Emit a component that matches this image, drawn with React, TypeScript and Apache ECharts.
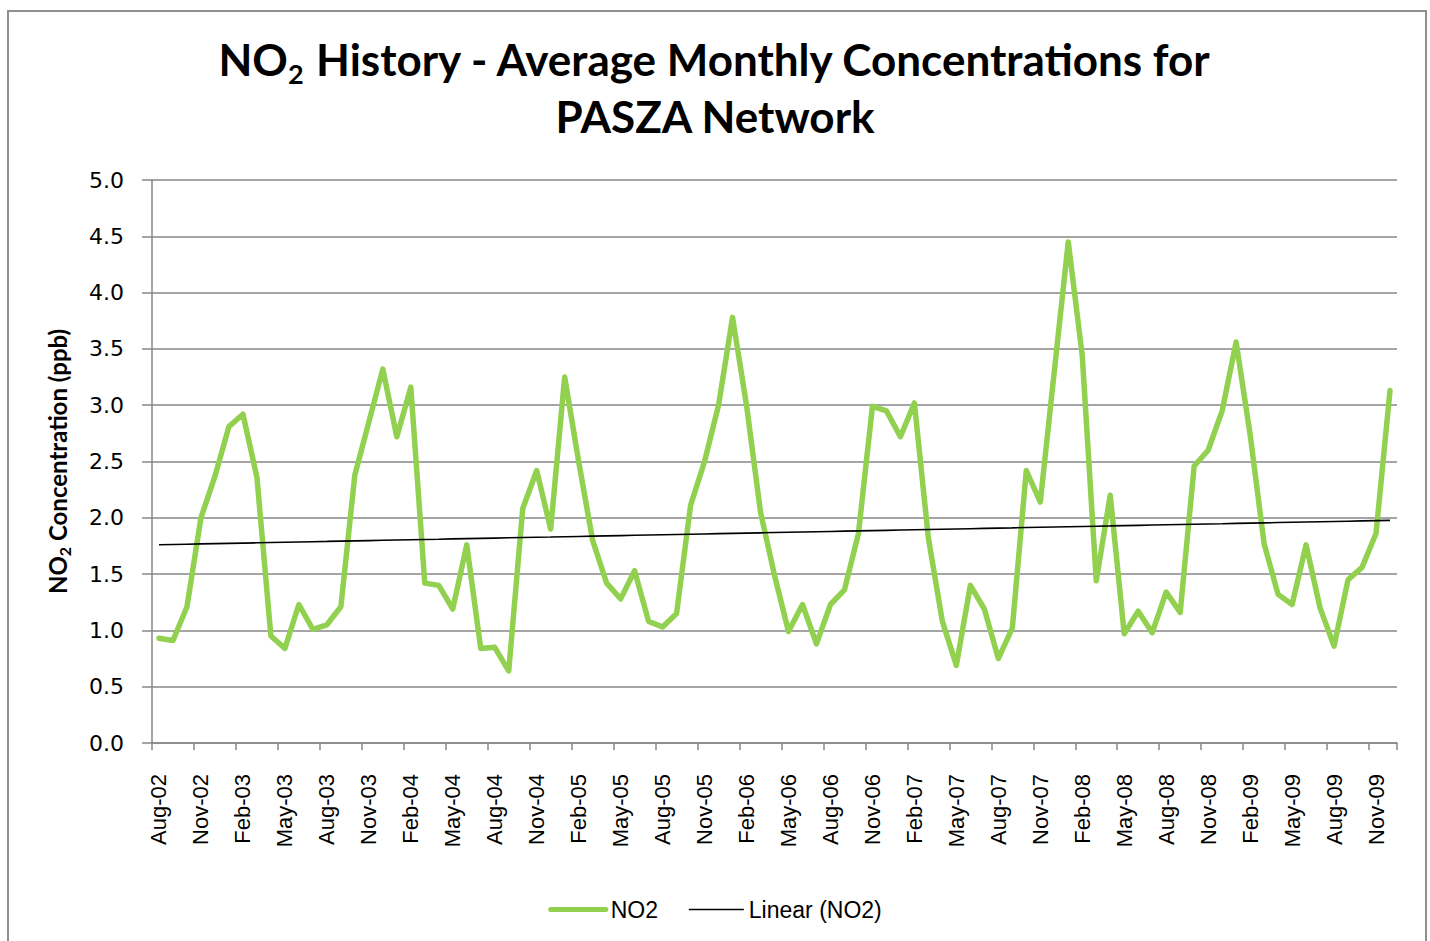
import React, { useEffect, useRef } from "react";
import * as echarts from "echarts";

const months: string[] = [
  "Aug-02", "Sep-02", "Oct-02", "Nov-02", "Dec-02",
  "Jan-03", "Feb-03", "Mar-03", "Apr-03", "May-03", "Jun-03", "Jul-03", "Aug-03", "Sep-03", "Oct-03", "Nov-03", "Dec-03",
  "Jan-04", "Feb-04", "Mar-04", "Apr-04", "May-04", "Jun-04", "Jul-04", "Aug-04", "Sep-04", "Oct-04", "Nov-04", "Dec-04",
  "Jan-05", "Feb-05", "Mar-05", "Apr-05", "May-05", "Jun-05", "Jul-05", "Aug-05", "Sep-05", "Oct-05", "Nov-05", "Dec-05",
  "Jan-06", "Feb-06", "Mar-06", "Apr-06", "May-06", "Jun-06", "Jul-06", "Aug-06", "Sep-06", "Oct-06", "Nov-06", "Dec-06",
  "Jan-07", "Feb-07", "Mar-07", "Apr-07", "May-07", "Jun-07", "Jul-07", "Aug-07", "Sep-07", "Oct-07", "Nov-07", "Dec-07",
  "Jan-08", "Feb-08", "Mar-08", "Apr-08", "May-08", "Jun-08", "Jul-08", "Aug-08", "Sep-08", "Oct-08", "Nov-08", "Dec-08",
  "Jan-09", "Feb-09", "Mar-09", "Apr-09", "May-09", "Jun-09", "Jul-09", "Aug-09", "Sep-09", "Oct-09", "Nov-09", "Dec-09",
];

const no2: number[] = [
  0.93, 0.91, 1.21, 2.0, 2.37,
  2.81, 2.92, 2.36, 0.95, 0.84, 1.23, 1.01, 1.05, 1.21, 2.38, 2.85, 3.32,
  2.72, 3.16, 1.42, 1.4, 1.19, 1.76, 0.84, 0.85, 0.64, 2.08, 2.42, 1.9,
  3.25, 2.5, 1.8, 1.42, 1.28, 1.53, 1.08, 1.03, 1.15, 2.11, 2.5, 3.0,
  3.78, 3.0, 2.05, 1.49, 0.99, 1.23, 0.88, 1.23, 1.36, 1.86, 2.99, 2.95,
  2.72, 3.02, 1.82, 1.08, 0.69, 1.4, 1.19, 0.75, 1.02, 2.42, 2.14, 3.3,
  4.45, 3.44, 1.44, 2.2, 0.97, 1.17, 0.98, 1.34, 1.16, 2.46, 2.6, 2.95,
  3.56, 2.74, 1.77, 1.32, 1.23, 1.76, 1.2, 0.86, 1.45, 1.56, 1.86, 3.13,
];

const seriesNames: string[] = ["NO2", "Linear (NO2)"];

export default function App() {
  const ref = useRef<HTMLDivElement>(null);

  useEffect(() => {
    if (!ref.current) return;
    const chart = echarts.init(ref.current, null, { renderer: "svg" });

    // Least-squares linear trend of the NO2 series (Excel "Linear" trendline)
    const n = no2.length;
    let sx = 0, sy = 0, sxy = 0, sxx = 0;
    no2.forEach((v, i) => {
      sx += i; sy += v; sxy += i * v; sxx += i * i;
    });
    const slope = (n * sxy - sx * sy) / (n * sxx - sx * sx);
    const intercept = (sy - slope * sx) / n;
    const trend = no2.map((_, i) => +(intercept + slope * i).toFixed(4));

    const gray = "#878787";
    const green = "#92D050";

    chart.setOption({
      animation: false,
      backgroundColor: "#ffffff",
      graphic: [
        {
          type: "rect",
          shape: { x: 8, y: 11, width: 1418, height: 945 },
          style: { fill: "none", stroke: "#8f8f8f", lineWidth: 2 },
          silent: true,
        },
      ],
      title: {
        left: "center",
        top: 25,
        text:
          "{a|NO}{s|2}{a| History - Average Monthly Concentrations for}\n{a|PASZA Network}",
        textStyle: {
          rich: {
            a: {
              fontFamily: "Lato",
              fontWeight: "bold",
              fontSize: 44,
              lineHeight: 57,
              color: "#000",
            },
            s: {
              fontFamily: "Lato",
              fontWeight: "bold",
              fontSize: 27,
              lineHeight: 30,
              verticalAlign: "bottom",
              color: "#000",
            },
          },
        },
      },
      legend: {
        top: 893,
        left: "center",
        itemWidth: 55,
        itemHeight: 14,
        itemGap: 30,
        textStyle: { fontFamily: "Liberation Sans", fontSize: 23, color: "#000" },
        data: [
          {
            name: seriesNames[0],
            itemStyle: { color: "transparent", opacity: 0, borderWidth: 0 },
            lineStyle: { color: green, width: 5, cap: "round" },
          },
          {
            name: seriesNames[1],
            itemStyle: { color: "transparent", opacity: 0, borderWidth: 0 },
            lineStyle: { color: "#000", width: 1.6 },
          },
        ],
      },
      grid: { left: 152, right: 33, top: 180, bottom: 198 },
      xAxis: {
        type: "category",
        data: months,
        boundaryGap: true,
        axisLine: { show: true, lineStyle: { color: gray, width: 1.5 } },
        axisTick: { show: true, interval: 2, length: 7, lineStyle: { color: gray, width: 1.5 } },
        axisLabel: {
          interval: 2,
          rotate: 90,
          margin: 31,
          fontFamily: "Liberation Sans",
          fontSize: 22,
          color: "#000",
        },
        splitLine: { show: false },
      },
      yAxis: {
        type: "value",
        min: 0,
        max: 5,
        interval: 0.5,
        name: "{b|NO}{s|2}{b| Concentration (ppb)}",
        nameLocation: "middle",
        nameRotate: 90,
        nameGap: 80,
        nameTextStyle: {
          rich: {
            b: { fontFamily: "Lato", fontWeight: "bold", fontSize: 24, lineHeight: 30, color: "#000" },
            s: {
              fontFamily: "Lato",
              fontWeight: "bold",
              fontSize: 16,
              lineHeight: 18,
              verticalAlign: "bottom",
              color: "#000",
            },
          },
        },
        axisLine: { show: true, lineStyle: { color: gray, width: 1.5 } },
        axisTick: { show: true, length: 10, lineStyle: { color: gray, width: 1.5 } },
        axisLabel: {
          margin: 28,
          fontFamily: "DejaVu Sans",
          fontSize: 22,
          color: "#000",
          formatter: (v: number) => v.toFixed(1),
        },
        splitLine: { show: true, lineStyle: { color: gray, width: 1.5 } },
      },
      series: [
        {
          name: seriesNames[0],
          type: "line",
          data: no2,
          symbol: "none",
          lineStyle: { color: green, width: 5.5, join: "round", cap: "round" },
          itemStyle: { color: green },
        },
        {
          name: seriesNames[1],
          type: "line",
          data: trend,
          symbol: "none",
          lineStyle: { color: "#000", width: 1.6 },
          itemStyle: { color: "#000" },
        },
      ],
    });

    return () => chart.dispose();
  }, []);

  return (
    <div
      ref={ref}
      style={{ position: "absolute", left: 0, top: 0, width: 1430, height: 941 }}
    />
  );
}
